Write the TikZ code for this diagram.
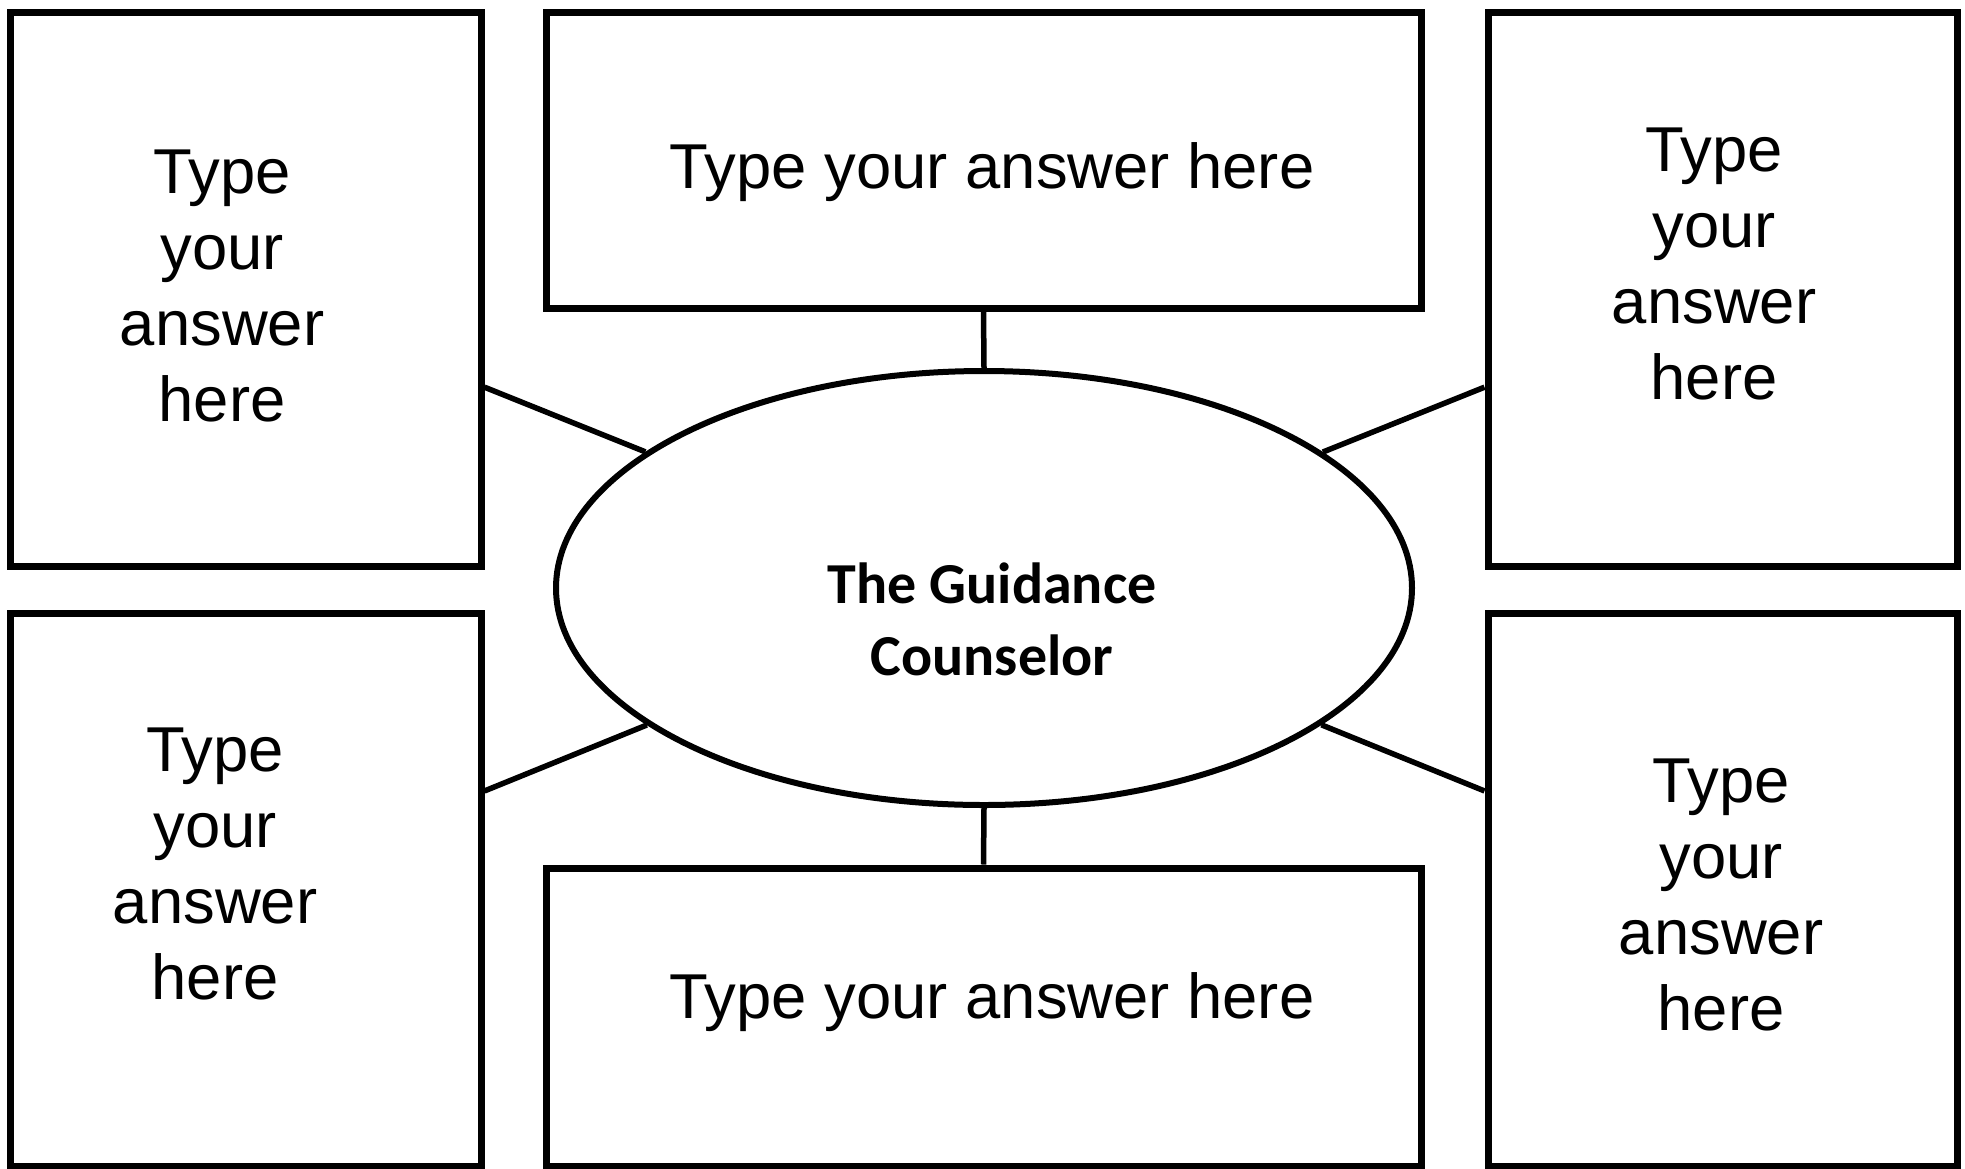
\documentclass[tikz,border=0pt]{standalone}
\usepackage{fontspec}
\setmainfont{Liberation Sans}
\newfontfamily\calib{Carlito}
\usetikzlibrary{shapes.geometric,calc}
\begin{document}
\begin{tikzpicture}[x=0.5pt,y=-0.5pt,
  box/.style={draw, line width=3.5pt, rectangle, inner sep=0pt},
  oval/.style={draw, line width=3pt, ellipse, inner sep=0pt, minimum width=428pt, minimum height=217pt},
  link/.style={line width=2.75pt},
  txt/.style={font=\fontsize{31.7}{38}\selectfont, align=center, anchor=base, inner sep=0pt},
  ctxt/.style={font=\calib\bfseries\fontsize{29}{36}\selectfont, align=center, anchor=base, inner sep=0pt}]
\useasboundingbox (0,0) rectangle (1965,1168);
\fill[white] (0,0) rectangle (1965,1168);
% boxes
\node[box, minimum width=235.5pt, minimum height=277pt] (tl) at (245.5,289) {};
\node[box, minimum width=437.5pt, minimum height=148pt] (tm) at (983.5,160) {};
\node[box, minimum width=234.5pt, minimum height=277pt] (tr) at (1722.5,289) {};
\node[box, minimum width=235.5pt, minimum height=276.5pt] (bl) at (245.5,889.5) {};
\node[box, minimum width=437.5pt, minimum height=149pt] (bm) at (983.5,1017) {};
\node[box, minimum width=234.5pt, minimum height=276.5pt] (br) at (1722.5,889.5) {};
% central ellipse
\node[oval] (el) at (984,588) {};
% texts (anchor = baseline of last line)
\node[txt] (ttl) at (222,421) {Type\\your\\answer\\here};
\node[txt] (ttr) at (1714,399) {Type\\your\\answer\\here};
\node[txt] (tbl) at (215,999) {Type\\your\\answer\\here};
\node[txt] (tbr) at (1721,1030) {Type\\your\\answer\\here};
\node[txt] (ttm) at (992,188) {Type your answer here};
\node[txt] (tbm) at (992,1018) {Type your answer here};
\node[ctxt] (tc) at (992,675) {The Guidance\\Counselor};
% connectors
\draw[link] (tm.south) -- (el.north);
\draw[link] (bm.north) -- (el.south);
\draw[link] ($(tl.north east)!0.675!(tl.south east)$) -- (el);
\draw[link] ($(tr.north west)!0.675!(tr.south west)$) -- (el);
\draw[link] ($(bl.north east)!0.324!(bl.south east)$) -- (el);
\draw[link] ($(br.north west)!0.324!(br.south west)$) -- (el);
\end{tikzpicture}
\end{document}
